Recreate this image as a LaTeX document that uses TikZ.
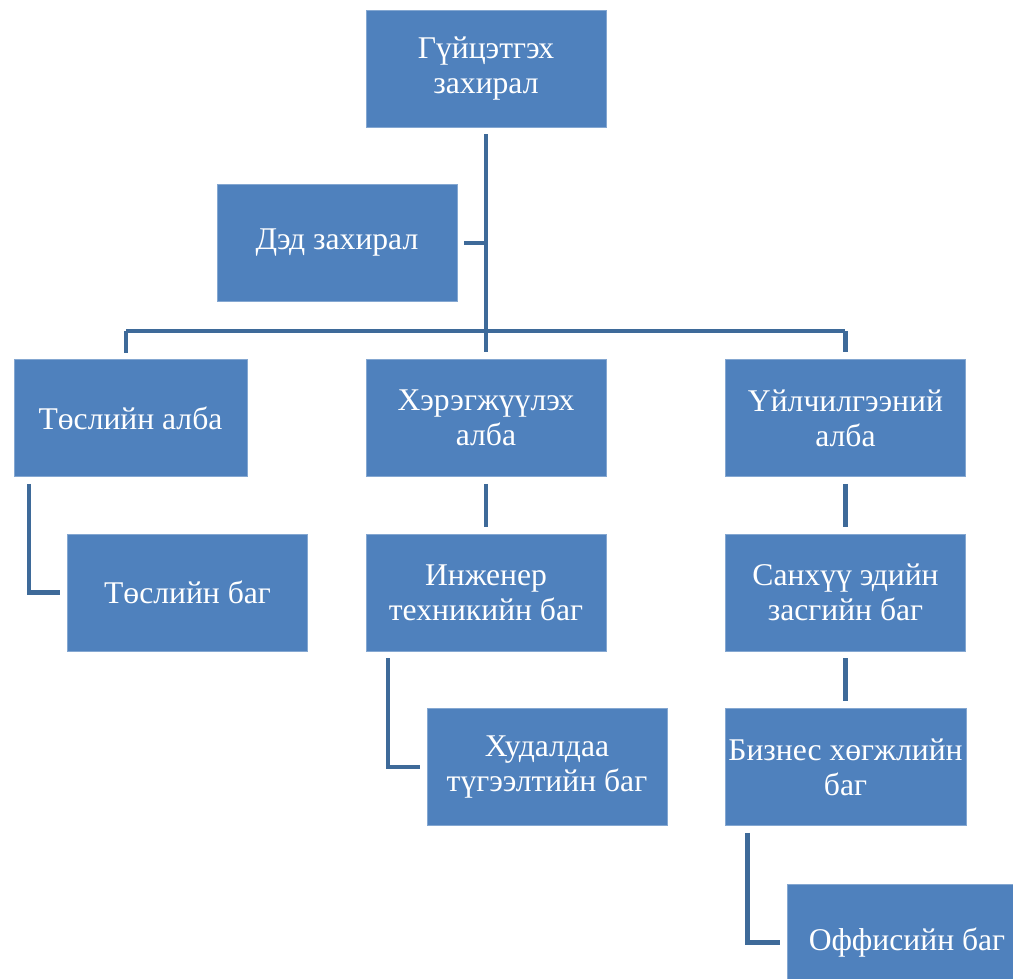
\documentclass[tikz,border=0pt]{standalone}
\usepackage{fontspec}
\setmainfont{Liberation Serif}
\usetikzlibrary{positioning, calc}

\definecolor{boxblue}{HTML}{4F81BD}
\definecolor{linkblue}{HTML}{3E6A99}

\begin{document}
\begin{tikzpicture}[x=0.02cm, y=-0.02cm]

  % Define box and connector styles
  \tikzset{
    unit box/.style={
      rectangle, fill=boxblue, draw=boxblue!70!white, line width=0.4pt,
      minimum width=4.8cm, minimum height=2.34cm,
      text=white, align=center, font=\fontsize{18}{20}\selectfont,
      inner sep=2pt,
    },
    link/.style={
      draw=linkblue, line width=2.3pt,
      shorten <=0.14cm, shorten >=0.14cm,
    },
  }

  \clip (0,0) rectangle (1013,979);

  % Management
  \node[unit box] (gen) at (486,68.5) {Гүйцэтгэх\\захирал};
  \node[unit box] (dep) at (337,243) {Дэд захирал};

  % Departments
  \node[unit box, minimum width=4.66cm] (proj) at (130.5,418) {Төслийн алба};
  \node[unit box] (impl) at (486,418) {Хэрэгжүүлэх\\алба};
  \node[unit box] (serv) at (845.5,418) {Үйлчилгээний\\алба};

  % Teams
  \node[unit box] (projteam) at (187.5,592.5) {Төслийн баг};
  \node[unit box] (eng) at (486,592.5) {Инженер\\техникийн баг};
  \node[unit box] (fin) at (845.5,592.5) {Санхүү эдийн\\засгийн баг};
  \node[unit box] (sales) at (547,767) {Худалдаа\\түгээлтийн баг};
  \node[unit box] (biz) at (845.5,767) {Бизнес хөгжлийн\\баг};
  \node[unit box] (office) at (907,942.5) {Оффисийн баг};

  % Trunk and bar
  \coordinate (bar) at (486,331);
  \draw[link] (gen) -- (impl);
  \draw[link, shorten <=0pt] (gen.south |- dep.east) -- (dep.east);
  \draw[draw=linkblue, line width=2.3pt] (126,331) -- (845,331);
  \draw[link, shorten <=0pt] (126,331) -- (126,360);
  \draw[link, shorten <=0pt] (serv.north |- bar) -- (serv.north);

  % Lower connectors
  \draw[link] ([xshift=0.3cm]proj.south west) |- (projteam.west);
  \draw[link] (impl) -- (eng);
  \draw[link] ([xshift=0.44cm]eng.south west) |- (sales.west);
  \draw[link] (serv) -- (fin);
  \draw[link] (fin) -- (biz);
  \draw[link] ([xshift=0.46cm]biz.south west) |- (office.west);

\end{tikzpicture}
\end{document}
